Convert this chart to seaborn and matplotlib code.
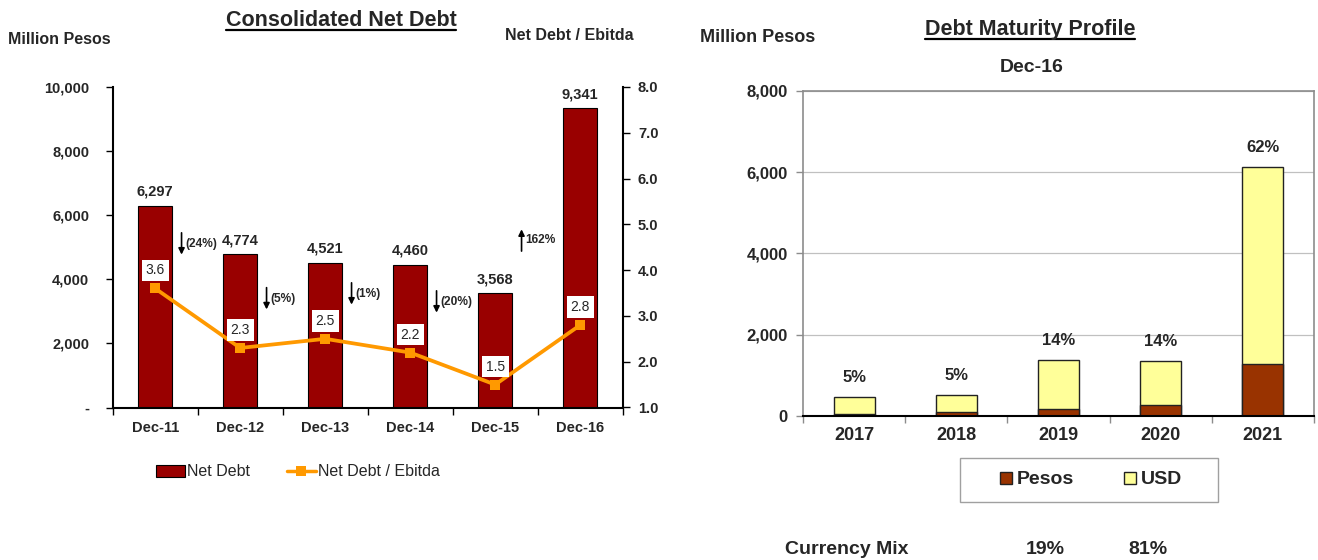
import numpy as np
import matplotlib
matplotlib.use("Agg")
import matplotlib.pyplot as plt
from matplotlib.lines import Line2D
from matplotlib.patches import Patch, Rectangle
from matplotlib.ticker import FixedLocator, FuncFormatter
import seaborn as sns

# Consolidated net debt (million pesos) and leverage
periods = ["Dec-11", "Dec-12", "Dec-13", "Dec-14", "Dec-15", "Dec-16"]
net_debt = [6297, 4774, 4521, 4460, 3568, 9341]
debt_to_ebitda = [3.6, 2.3, 2.5, 2.2, 1.5, 2.8]

# Debt maturity profile at Dec-16 (million pesos)
years = ["2017", "2018", "2019", "2020", "2021"]
pesos = [65, 105, 170, 280, 1280]
usd = [410, 410, 1215, 1070, 4855]

MAROON = "#990000"
ORANGE = "#FF9900"
PESOS_C = "#993300"
USD_C = "#FFFF99"

sns.set_theme(style="white")
plt.rcParams["font.family"] = ["Liberation Sans", "DejaVu Sans"]

W, H = 1318, 560
fig = plt.figure(figsize=(W / 100, H / 100), dpi=100)


def fx(px):
    return px / W


def fy(py):
    return 1 - py / H


# ---------------- Left panel: net debt bars + leverage line ----------------
ax = fig.add_axes([fx(112.7), fy(407.5), fx(510), 320.5 / H])
ax2 = ax.twinx()

sns.barplot(x=periods, y=net_debt, color=MAROON, saturation=1, width=0.4,
            edgecolor="black", linewidth=0.8, ax=ax)
sns.lineplot(x=np.arange(len(periods)), y=debt_to_ebitda, color=ORANGE,
             marker="s", markersize=7, markeredgewidth=0, linewidth=2.7, ax=ax2)

ax.set_xlim(-0.5, len(periods) - 0.5)
ax.set_ylim(0, 10000)
ax2.set_ylim(1.0, 8.0)
ax.set_xlabel("")
ax.set_ylabel("")
ax2.set_ylabel("")

for a in (ax, ax2):
    a.spines["top"].set_visible(False)
    for s in ("left", "right", "bottom"):
        a.spines[s].set_color("black")
        a.spines[s].set_linewidth(1.5)
ax.spines["right"].set_visible(False)
ax2.spines["left"].set_visible(False)
ax2.spines["bottom"].set_visible(False)

ax.set_yticks(np.arange(0, 10001, 2000))
ax.yaxis.set_major_formatter(FuncFormatter(lambda v, p: "-" if v == 0 else f"{v:,.0f}"))
ax2.set_yticks(np.arange(1, 8.01, 1))
ax2.yaxis.set_major_formatter(FuncFormatter(lambda v, p: f"{v:.1f}"))
ax.tick_params(axis="y", direction="out", length=5, width=1, color="black",
               labelsize=10.5, pad=12, left=True)
ax2.tick_params(axis="y", direction="out", length=5, width=1, color="black",
                labelsize=10.5, pad=6, right=True)
for lab in ax.get_yticklabels() + ax2.get_yticklabels():
    lab.set_fontweight("bold")

ax.set_xticks(np.arange(len(periods)))
ax.set_xticklabels(periods, fontsize=10.5, fontweight="bold")
ax.xaxis.set_minor_locator(FixedLocator(np.arange(-0.5, len(periods), 1)))
ax.tick_params(axis="x", which="major", length=0, pad=10)
ax.tick_params(axis="x", which="minor", direction="out", length=5, width=1,
               color="black", bottom=True)
ax2.set_xlim(-0.5, len(periods) - 0.5)

# value labels on bars
for i, v in enumerate(net_debt):
    ax.annotate(f"{v:,}", (i, v), xytext=(0, 10), textcoords="offset points",
                ha="center", va="center", fontsize=10.5, fontweight="bold")

# leverage labels in white boxes
for i, v in enumerate(debt_to_ebitda):
    ax2.annotate(f"{v:.1f}", (i, v), xytext=(0, 13), textcoords="offset points",
                 ha="center", va="center", fontsize=10,
                 bbox=dict(boxstyle="square,pad=0.28", fc="white", ec="none"))

# year-over-year change arrows
arrow_mid = [5110, 3400, 3550, 3300, 5220]
arrow_half = 340
for i in range(len(net_debt) - 1):
    chg = (net_debt[i + 1] / net_debt[i] - 1) * 100
    xa = i + 0.31
    ym = arrow_mid[i]
    if chg < 0:
        start, end = ym + arrow_half, ym - arrow_half
        label = f"({abs(chg):.0f}%)"
    else:
        start, end = ym - arrow_half, ym + arrow_half
        label = f"{chg:.0f}%"
    ax.annotate("", xy=(xa, end), xytext=(xa, start),
                arrowprops=dict(arrowstyle="-|>", color="black", lw=1.2,
                                mutation_scale=9, shrinkA=0, shrinkB=0))
    ax.text(xa + 0.04, ym, label, ha="left", va="center", fontsize=8.6,
            fontweight="bold")

fig.legend(handles=[Patch(facecolor=MAROON, edgecolor="black", linewidth=0.8),
                    Line2D([], [], color=ORANGE, lw=2.5, marker="s", markersize=7,
                           markeredgewidth=0)],
           labels=["Net Debt", "Net Debt / Ebitda"], loc="center",
           bbox_to_anchor=(fx(298), fy(472)), ncol=2, frameon=False,
           fontsize=11.5, handlelength=1.8, handleheight=0.7,
           handletextpad=0.15, columnspacing=2.3)

# ---------------- Right panel: maturity profile ----------------
ax3 = fig.add_axes([fx(803), fy(416.3), fx(511), 325.6 / H])
totals = [p + u for p, u in zip(pesos, usd)]
grand = sum(totals)

sns.barplot(x=years, y=totals, color=USD_C, saturation=1, width=0.4,
            edgecolor="#222222", linewidth=1, ax=ax3)
sns.barplot(x=years, y=pesos, color=PESOS_C, saturation=1, width=0.4,
            edgecolor="#222222", linewidth=1, ax=ax3)

ax3.set_xlim(-0.5, len(years) - 0.5)
ax3.set_ylim(0, 8000)
ax3.set_xlabel("")
ax3.set_ylabel("")
ax3.set_axisbelow(True)
ax3.yaxis.grid(True, color="#c0c0c0", linewidth=0.9)
ax3.xaxis.grid(False)
for s in ("top", "right", "left"):
    ax3.spines[s].set_color("#8c8c8c")
    ax3.spines[s].set_linewidth(1.2)
ax3.spines["bottom"].set_color("black")
ax3.spines["bottom"].set_linewidth(1.5)

ax3.set_yticks(np.arange(0, 8001, 2000))
ax3.yaxis.set_major_formatter(FuncFormatter(lambda v, p: f"{v:,.0f}"))
ax3.tick_params(axis="y", direction="out", length=5, width=1, color="#8c8c8c",
                labelsize=12, pad=6, left=True)
for lab in ax3.get_yticklabels():
    lab.set_fontweight("bold")
ax3.set_xticks(np.arange(len(years)))
ax3.set_xticklabels(years, fontsize=13, fontweight="bold")
ax3.xaxis.set_minor_locator(FixedLocator(np.arange(-0.5, len(years), 1)))
ax3.tick_params(axis="x", which="major", length=0, pad=8)
ax3.tick_params(axis="x", which="minor", direction="out", length=5, width=1,
                color="#8c8c8c", bottom=True)

for i, t in enumerate(totals):
    ax3.annotate(f"{t / grand * 100:.0f}%", (i, t), xytext=(0, 14),
                 textcoords="offset points", ha="center", va="center",
                 fontsize=12, fontweight="bold")

# legend box drawn as a separate frame so it can be wider than its content
fig.add_artist(Rectangle((fx(960), fy(502)), fx(258), 44 / H,
                         transform=fig.transFigure, fill=False,
                         edgecolor="#a0a0a0", linewidth=1.0))
fig.legend(handles=[Patch(facecolor=PESOS_C, edgecolor="#222222"),
                    Patch(facecolor=USD_C, edgecolor="#222222")],
           labels=["Pesos", "USD"], loc="center",
           bbox_to_anchor=(fx(1091), fy(480)), ncol=2, frameon=False,
           prop={"weight": "bold", "size": 14}, handlelength=0.58,
           handleheight=0.58, handletextpad=0.25, columnspacing=2.6)

peso_share = sum(pesos) / grand * 100
fig.text(fx(785), fy(549), "Currency Mix", ha="left", va="center",
         fontsize=14, fontweight="bold")
fig.text(fx(1045), fy(549), f"{peso_share:.0f}%", ha="center", va="center",
         fontsize=14, fontweight="bold")
fig.text(fx(1148), fy(549), f"{100 - peso_share:.0f}%", ha="center", va="center",
         fontsize=14, fontweight="bold")

# ---------------- Headings ----------------
fig.text(fx(8.5), fy(40), "Million Pesos", ha="left", va="center",
         fontsize=11.5, fontweight="bold")
fig.text(fx(505), fy(36), "Net Debt / Ebitda", ha="left", va="center",
         fontsize=11.5, fontweight="bold")
fig.text(fx(700), fy(38), "Million Pesos", ha="left", va="center",
         fontsize=13, fontweight="bold")
fig.text(fx(1032), fy(67), "Dec-16", ha="center", va="center",
         fontsize=14, fontweight="bold")
titles = [fig.text(fx(341), fy(20), "Consolidated Net Debt", ha="center",
                   va="center", fontsize=15.5, fontweight="bold"),
          fig.text(fx(1030), fy(29), "Debt Maturity Profile", ha="center",
                   va="center", fontsize=15.5, fontweight="bold")]

fig.canvas.draw()
renderer = fig.canvas.get_renderer()
for t in titles:
    bb = t.get_window_extent(renderer)
    yl = (bb.y0 + 1.0) / H
    fig.add_artist(Line2D([bb.x0 / W, bb.x1 / W], [yl, yl],
                          transform=fig.transFigure, color="black", lw=1.6))

fig.savefig("out.png", dpi=100)
